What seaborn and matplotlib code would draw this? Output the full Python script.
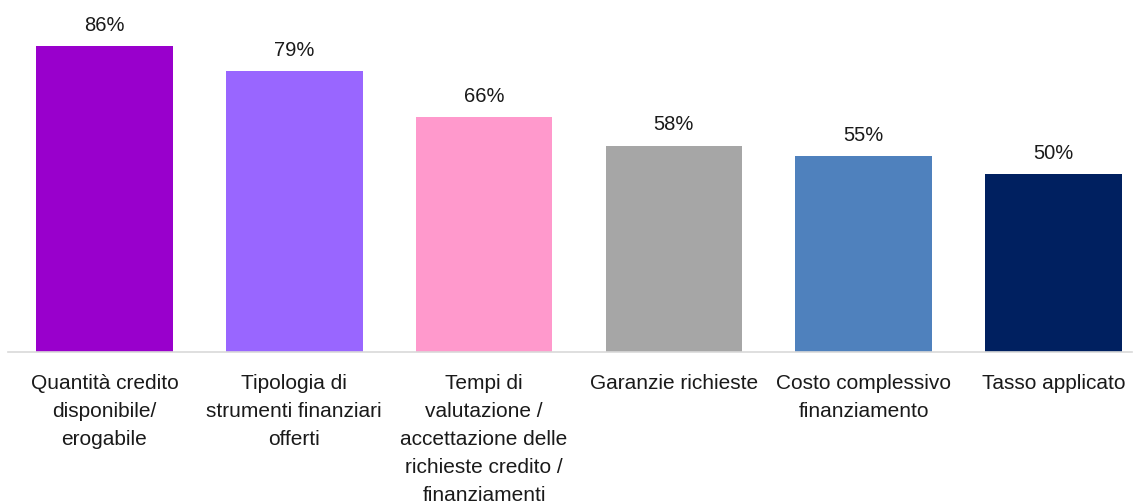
import matplotlib
matplotlib.use("Agg")
import matplotlib.pyplot as plt
import seaborn as sns
import pandas as pd

# Données du graphique
categories = [
    "Quantità credito\ndisponibile/\nerogabile",
    "Tipologia di\nstrumenti finanziari\nofferti",
    "Tempi di\nvalutazione /\naccettazione delle\nrichieste credito /\nfinanziamenti",
    "Garanzie richieste",
    "Costo complessivo\nfinanziamento",
    "Tasso applicato",
]
valori = [86, 79, 66, 58, 55, 50]
colori = ["#9900CC", "#9966FF", "#FF99CC", "#A6A6A6", "#4F81BD", "#002060"]

df = pd.DataFrame({"categoria": categories, "valore": valori})

sns.set_style("white")
plt.rcParams["font.family"] = ["Liberation Sans", "DejaVu Sans"]

fig = plt.figure(figsize=(11.37, 5.04), dpi=100)
ax = fig.add_axes([8 / 1137, 152 / 504, 1124 / 1137, 352 / 504])

sns.barplot(data=df, x="categoria", y="valore", hue="categoria",
            palette=colori, legend=False, width=0.72, saturation=1,
            linewidth=0, ax=ax)

for i, v in enumerate(valori):
    ax.text(i, v + 3.2, f"{v}%", ha="center", va="bottom",
            fontsize=14.5, color="#1a1a1a")

ax.set_xlim(-0.508, 5.413)
ax.set_ylim(0, 99)
ax.set_xlabel("")
ax.set_ylabel("")
ax.set_yticks([])
ax.tick_params(axis="x", length=0, pad=16, labelsize=15, colors="#1a1a1a")
for lbl in ax.get_xticklabels():
    lbl.set_linespacing(1.6)
    lbl.set_va("top")

for s in ["top", "left", "right"]:
    ax.spines[s].set_visible(False)
ax.spines["bottom"].set_color("#D9D9D9")
ax.spines["bottom"].set_linewidth(1.2)

fig.savefig("out.png", dpi=100)
